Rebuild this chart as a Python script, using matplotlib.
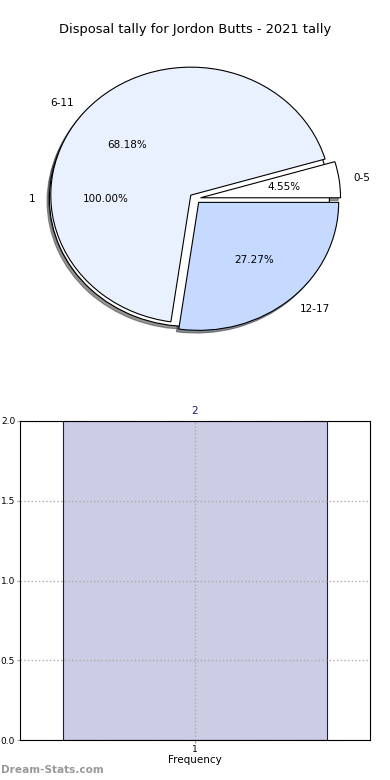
import numpy as np
import matplotlib
matplotlib.use("Agg")
import matplotlib.pyplot as plt

# pie data
bins = ["0-5", "6-11", "12-17"]
shares = [4.55, 68.18, 27.27]
games = ["1"]
game_share = [100.0]
pie_colors = ["white", "#eaf1fe", "#c6d9fe"]

# histogram data
freq_x = [1]
freq_y = [2]
freq_ticks = ["1"]

fig = plt.figure(figsize=(3.9, 7.8), dpi=100)

shadow = dict(ox=-0.012, oy=-0.015, alpha=0.6)
ax1 = fig.add_axes([20/390, 1 - 358.5/780, 350/390, 320/780])
ax1.pie(game_share, labels=games, colors=pie_colors[:1], explode=[0.04],
        autopct="%.2f%%", shadow=shadow, startangle=0,
        wedgeprops=dict(edgecolor="black", linewidth=0.8),
        textprops=dict(fontsize=7.5))
ax1.pie(shares, labels=bins, colors=pie_colors, explode=[0.04]*3,
        autopct="%.2f%%", shadow=shadow, startangle=0,
        wedgeprops=dict(edgecolor="black", linewidth=0.8),
        textprops=dict(fontsize=7.5))
ax1.set_aspect("auto")
ax1.set_xlim(-1.25, 1.25)
ax1.set_ylim(-1.25, 1.25)
fig.text(0.5, 1 - 30/780, "Disposal tally for Jordon Butts - 2021 tally",
         ha="center", va="center", fontsize=9.4)

ax2 = fig.add_axes([20/390, 40/780, 350/390, 319/780])
bars = ax2.bar(freq_x, freq_y, width=0.8, color="#ccccE4", edgecolor="#1010a0",
               linewidth=0.8)
for b, v in zip(bars, freq_y):
    ax2.text(b.get_x() + b.get_width()/2, v + 0.03, str(v), ha="center",
             va="bottom", fontsize=7.5, color="#1a1a6e")
ax2.set_xlim(0.47, 1.53)
ax2.set_ylim(0, 2.0)
ax2.set_xticks(freq_x)
ax2.set_xticklabels(freq_ticks)
ax2.set_yticks(np.arange(0, 2.01, 0.5))
ax2.tick_params(labelsize=6.5, length=2, color="#999999", pad=1.5)
ax2.set_axisbelow(False)
ax2.grid(True, linestyle=":", color="#aaaaaa", linewidth=1)
for sp in ax2.spines.values():
    sp.set_zorder(5)
ax2.set_xlabel("Frequency", fontsize=7.5, labelpad=1)

fig.text(0.002, 1 - 770/780, "Dream-Stats.com", ha="left", va="center",
         fontsize=7.6, color="#999999", fontweight="bold")

fig.savefig("out.png", dpi=100)
